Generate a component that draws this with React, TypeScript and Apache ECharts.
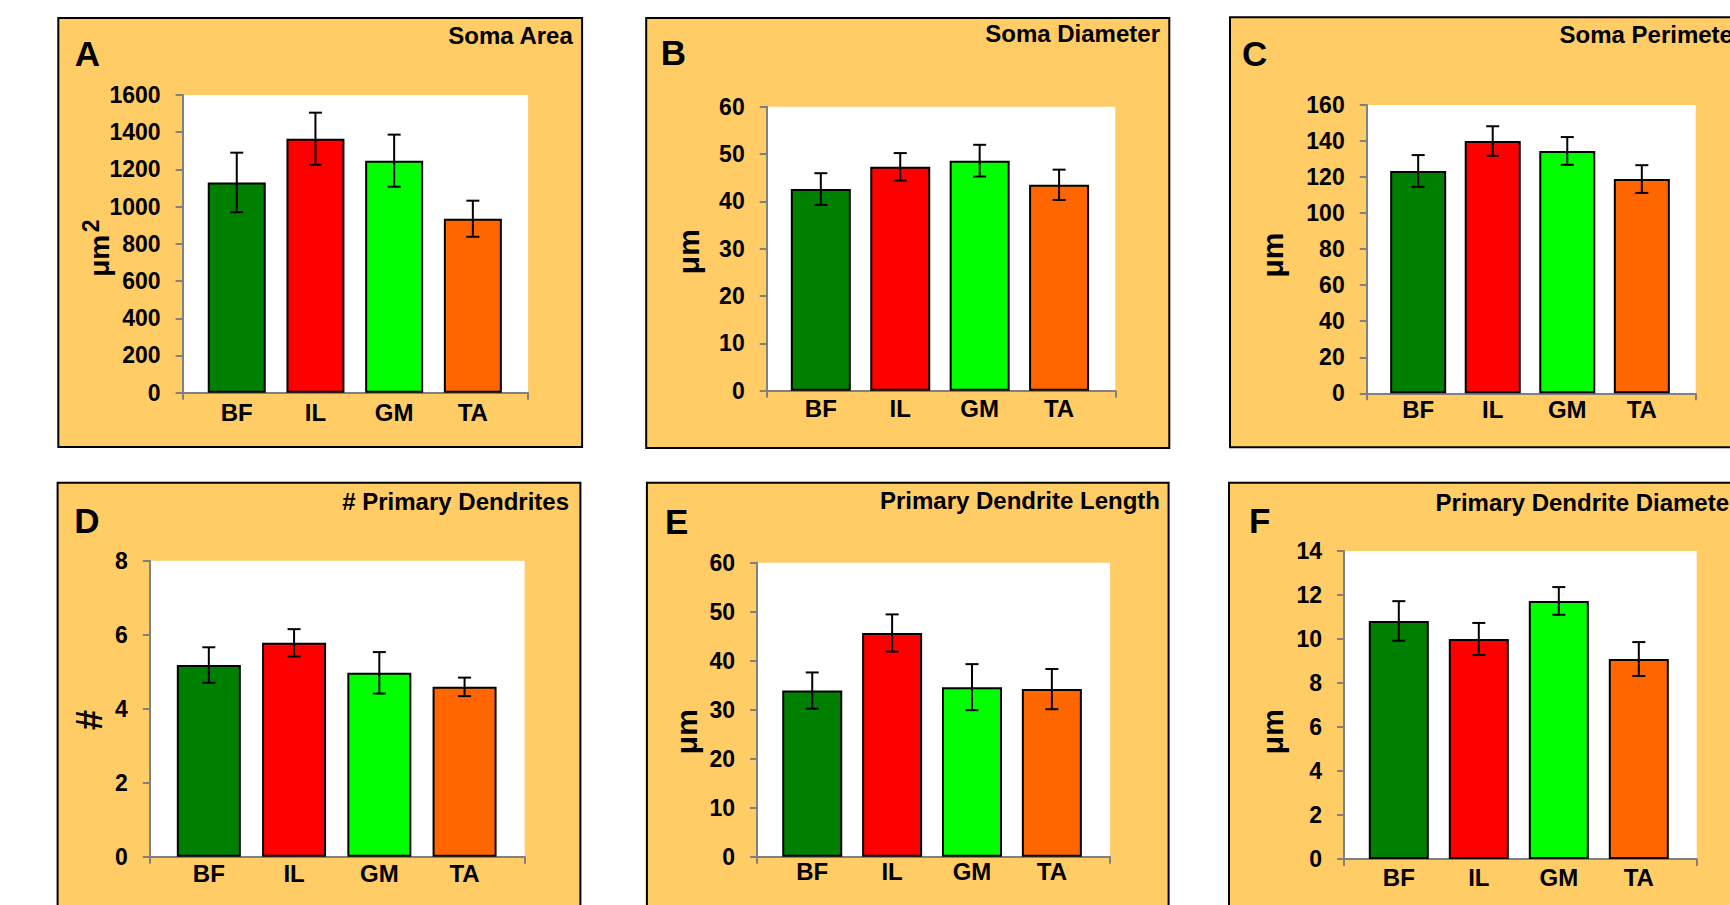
import React, { useEffect, useRef } from 'react';
import * as echarts from 'echarts';

const categories = ['BF', 'IL', 'GM', 'TA'];
const barColors = ['#008000', '#FF0000', '#00FF00', '#FF6600'];

const somaAreaMeans = [1130, 1365, 1247, 935];
const somaAreaErr = [160, 140, 140, 97];
const somaDiameterMeans = [42.6, 47.3, 48.6, 43.5];
const somaDiameterErr = [3.35, 2.9, 3.35, 3.2];
const somaPerimeterMeans = [123.4, 140.0, 134.5, 118.9];
const somaPerimeterErr = [8.8, 8.2, 7.7, 7.7];
const primaryDendritesMeans = [5.18, 5.78, 4.97, 4.59];
const primaryDendritesErr = [0.48, 0.37, 0.56, 0.25];
const dendriteLengthMeans = [33.9, 45.65, 34.6, 34.2];
const dendriteLengthErr = [3.7, 3.8, 4.7, 4.1];
const dendriteDiameterMeans = [10.82, 10.0, 11.73, 9.09];
const dendriteDiameterErr = [0.9, 0.73, 0.63, 0.77];

const panelLetters = ['A', 'B', 'C', 'D', 'E', 'F'];
const panelTitles = [
  'Soma Area',
  'Soma Diameter',
  'Soma Perimeter',
  '# Primary Dendrites',
  'Primary Dendrite Length',
  'Primary Dendrite Diameter',
];
const axisNames = ['μm', 'μm', 'μm', '#', 'μm', 'μm'];
const axisNameSup = ['2', '', '', '', '', ''];
const axisMax = [1600, 60, 160, 8, 60, 14];
const axisInterval = [200, 10, 20, 2, 10, 2];
const allMeans = [
  somaAreaMeans,
  somaDiameterMeans,
  somaPerimeterMeans,
  primaryDendritesMeans,
  dendriteLengthMeans,
  dendriteDiameterMeans,
];
const allErrors = [
  somaAreaErr,
  somaDiameterErr,
  somaPerimeterErr,
  primaryDendritesErr,
  dendriteLengthErr,
  dendriteDiameterErr,
];

// layout (pixels)
const layouts = [
  { panel: [58.3, 18, 523.8, 429], plot: [182.6, 95, 528.1, 392.7], inner: [197.4, 512.2], barWidth: 58, letter: [74.8, 53], title: [572.8, 35, 'right'], name: [99.4, 255.8], nameSize: 28, sup: [91.3, 225.8], labelMargin: 8 },
  { panel: [646.2, 18, 523.1, 430], plot: [766.7, 106.7, 1115.3, 390.7], inner: [781.1, 1098.8], barWidth: 60, letter: [660.8, 52.5], title: [1160, 33.7, 'right'], name: [688.3, 251.7], nameSize: 30, sup: [0, 0], labelMargin: 6 },
  { panel: [1230, 17.3, 520, 430], plot: [1366.7, 105, 1695.7, 393.3], inner: [1380.9, 1679.1], barWidth: 56, letter: [1242, 53], title: [1559.5, 34.3, 'left'], name: [1272.3, 255], nameSize: 30, sup: [0, 0], labelMargin: 4 },
  { panel: [57.6, 482.7, 522.8, 440], plot: [149.9, 560.7, 524.6, 856.7], inner: [166.2, 507.2], barWidth: 64, letter: [74.3, 520.5], title: [569, 501.7, 'right'], name: [89.5, 720], nameSize: 36, sup: [0, 0], labelMargin: 5 },
  { panel: [646.9, 482.7, 521.7, 440], plot: [757.1, 562.7, 1110.1, 856.7], inner: [772.3, 1091.8], barWidth: 60, letter: [665, 521.3], title: [1160, 500.5, 'right'], name: [686.3, 731.7], nameSize: 30, sup: [0, 0], labelMargin: 3 },
  { panel: [1229, 482.7, 520, 440], plot: [1344, 551, 1696.7, 859], inner: [1358.8, 1678.8], barWidth: 60, letter: [1249, 520], title: [1435.6, 502.8, 'left'], name: [1272.3, 731.7], nameSize: 30, sup: [0, 0], labelMargin: 6 },
];

const FONT = "'Liberation Sans', Arial, Helvetica, sans-serif";
const AXIS_GRAY = '#808080';

function buildOption() {
  const grids: any[] = [];
  const xAxes: any[] = [];
  const yAxes: any[] = [];
  const series: any[] = [];
  const graphics: any[] = [];

  // outer frame grids
  layouts.forEach((L, i) => {
    const [l, t, r, b] = L.plot;
    grids.push({
      left: l,
      top: t,
      width: r - l,
      height: b - t,
      show: true,
      backgroundColor: '#ffffff',
      borderWidth: 0,
      containLabel: false,
      outerBoundsMode: 'none',
    });
    xAxes.push({
      type: 'value',
      gridIndex: i,
      min: 0,
      max: 1,
      interval: 1,
      axisLine: { show: true, onZero: false, lineStyle: { color: AXIS_GRAY, width: 2 } },
      axisTick: { show: true, length: 7, lineStyle: { color: AXIS_GRAY, width: 2 } },
      axisLabel: { show: false },
      splitLine: { show: false },
    });
    yAxes.push({
      type: 'value',
      gridIndex: i,
      min: 0,
      max: axisMax[i],
      interval: axisInterval[i],
      axisLine: { show: true, lineStyle: { color: AXIS_GRAY, width: 2 } },
      axisTick: { show: true, length: 7, lineStyle: { color: AXIS_GRAY, width: 2 } },
      axisLabel: {
        show: true,
        margin: 22,
        color: '#000',
        fontFamily: FONT,
        fontWeight: 'bold',
        fontSize: 23,
        formatter: (v: number) => String(v),
      },
      splitLine: { show: false },
    });
  });

  // inner category grids
  layouts.forEach((L, i) => {
    const [, t, , b] = L.plot;
    const [il, ir] = L.inner;
    const gi = 6 + i;
    grids.push({
      left: il,
      top: t,
      width: ir - il,
      height: b - t,
      show: false,
      containLabel: false,
      outerBoundsMode: 'none',
    });
    xAxes.push({
      type: 'category',
      gridIndex: gi,
      data: categories,
      axisLine: { show: false },
      axisTick: { show: false },
      axisLabel: {
        show: true,
        margin: L.labelMargin,
        color: '#000',
        fontFamily: FONT,
        fontWeight: 'bold',
        fontSize: 24,
      },
      splitLine: { show: false },
    });
    yAxes.push({
      type: 'value',
      gridIndex: gi,
      min: 0,
      max: axisMax[i],
      interval: axisInterval[i],
      show: false,
      splitLine: { show: false },
    });

    series.push({
      type: 'bar',
      xAxisIndex: gi,
      yAxisIndex: gi,
      barWidth: L.barWidth,
      data: allMeans[i].map((v, k) => ({ value: v, itemStyle: { color: barColors[k] } })),
      itemStyle: { borderColor: '#000', borderWidth: 2 },
      z: 3,
    });

    series.push({
      type: 'custom',
      xAxisIndex: gi,
      yAxisIndex: gi,
      z: 5,
      data: allMeans[i].map((m, k) => [k, m - allErrors[i][k], m + allErrors[i][k]]),
      renderItem: (params: any, api: any) => {
        const x = api.value(0);
        const lo = api.coord([x, api.value(1)]);
        const hi = api.coord([x, api.value(2)]);
        const hw = 6.5;
        const st = { stroke: '#000', lineWidth: 2 };
        return {
          type: 'group',
          children: [
            { type: 'line', shape: { x1: lo[0], y1: lo[1], x2: hi[0], y2: hi[1] }, style: st },
            { type: 'line', shape: { x1: lo[0] - hw, y1: lo[1], x2: lo[0] + hw, y2: lo[1] }, style: st },
            { type: 'line', shape: { x1: hi[0] - hw, y1: hi[1], x2: hi[0] + hw, y2: hi[1] }, style: st },
          ],
        };
      },
    });

    // panel background
    const [px, py, pw, ph] = L.panel;
    graphics.push({
      type: 'rect',
      z: -10,
      silent: true,
      shape: { x: px, y: py, width: pw, height: ph },
      style: { fill: '#FFCC66', stroke: '#000', lineWidth: 2 },
    });
    graphics.push({
      type: 'text',
      z: 10,
      x: L.letter[0],
      y: L.letter[1],
      style: {
        text: panelLetters[i],
        fill: '#000',
        font: `bold 35px ${FONT}`,
        align: 'left',
        verticalAlign: 'middle',
      },
    });
    graphics.push({
      type: 'text',
      z: 10,
      x: L.title[0] as number,
      y: L.title[1] as number,
      style: {
        text: panelTitles[i],
        fill: '#000',
        font: `bold 24px ${FONT}`,
        align: L.title[2],
        verticalAlign: 'middle',
      },
    });
    graphics.push({
      type: 'text',
      z: 10,
      x: L.name[0],
      y: L.name[1],
      rotation: Math.PI / 2,
      style: {
        text: axisNames[i],
        fill: '#000',
        font: `bold ${L.nameSize}px ${FONT}`,
        align: 'center',
        verticalAlign: 'middle',
      },
    });
    if (axisNameSup[i]) {
      graphics.push({
        type: 'text',
        z: 10,
        x: L.sup[0],
        y: L.sup[1],
        rotation: Math.PI / 2,
        style: {
          text: axisNameSup[i],
          fill: '#000',
          font: `bold 23px ${FONT}`,
          align: 'center',
          verticalAlign: 'middle',
        },
      });
    }
  });

  return {
    animation: false,
    backgroundColor: '#ffffff',
    grid: grids,
    xAxis: xAxes,
    yAxis: yAxes,
    series,
    graphic: { elements: graphics },
  };
}

export default function App() {
  const ref = useRef<HTMLDivElement>(null);
  useEffect(() => {
    if (!ref.current) return;
    const chart = echarts.init(ref.current, undefined, { renderer: 'svg' });
    chart.setOption(buildOption() as any);
    return () => {
      chart.dispose();
    };
  }, []);
  return (
    <div
      ref={ref}
      style={{ position: 'fixed', left: 0, top: 0, width: 1730, height: 905, background: '#ffffff' }}
    />
  );
}
